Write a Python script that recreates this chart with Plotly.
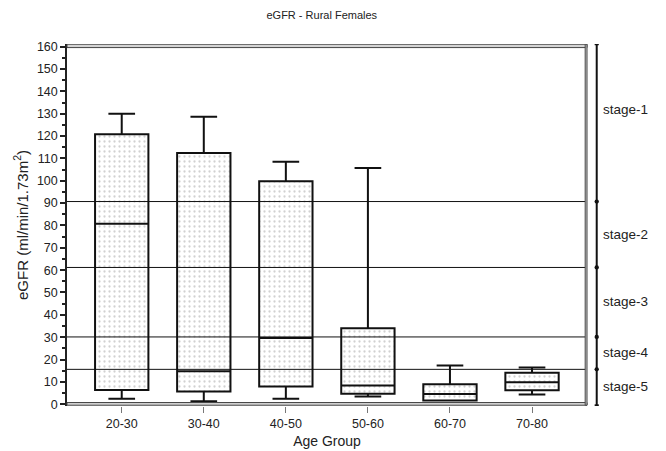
import plotly.graph_objects as go

# ---- data ----
categories = ["20-30", "30-40", "40-50", "50-60", "60-70", "70-80"]
upper = [130.0, 128.6, 108.5, 105.7, 17.3, 16.4]
q3 = [120.8, 112.4, 99.8, 34.0, 8.9, 14.1]
median = [80.8, 14.8, 29.6, 8.4, 4.6, 9.8]
q1 = [6.4, 5.7, 7.9, 4.7, 1.7, 6.3]
lower = [2.4, 1.3, 2.4, 3.5, 1.7, 4.4]

stage_cuts = [90.7, 61.2, 30.1, 15.6]
stage_names = ["stage-1", "stage-2", "stage-3", "stage-4", "stage-5"]
stage_label_y = [132.0, 76.0, 46.0, 23.0, 8.0]

FONT = "Arial, Liberation Sans, sans-serif"
BOXW = 0.65

# the page body has an 8px default margin; size the figure to fill the window
W, H = 658, 443

fig = go.Figure()

# dotted texture inside the boxes
fig.add_trace(go.Bar(
    x=categories,
    y=[a - b for a, b in zip(q3, q1)],
    base=q1,
    width=BOXW,
    marker=dict(color="white", line=dict(width=0),
                pattern=dict(shape=".", fgcolor="#a4a4a4", bgcolor="white",
                             size=5, solidity=0.16)),
    hoverinfo="skip",
    showlegend=False,
))

fig.add_trace(go.Box(
    x=categories,
    q1=q1, median=median, q3=q3,
    lowerfence=lower, upperfence=upper,
    width=BOXW,
    whiskerwidth=0.5,
    fillcolor="rgba(0,0,0,0)",
    line=dict(color="#111111", width=2),
    boxpoints=False,
    showlegend=False,
))

shapes = []
# stage separation lines
for c in stage_cuts:
    shapes.append(dict(type="line", xref="paper", yref="y", x0=0, x1=0.997,
                       y0=c, y1=c, line=dict(color="#111111", width=1)))
# frame bands
shapes.append(dict(type="rect", xref="paper", yref="y", x0=0, x1=1.0, y0=159.6, y1=161.1,
                   fillcolor="#d4d4d4", line=dict(color="#444444", width=1)))
shapes.append(dict(type="rect", xref="paper", yref="y", x0=0, x1=1.0, y0=-0.45, y1=0.75,
                   fillcolor="#d4d4d4", line=dict(color="#444444", width=1)))
shapes.append(dict(type="rect", xref="paper", yref="y", x0=0.9965, x1=1.0, y0=-0.45, y1=161.1,
                   fillcolor="#d4d4d4", line=dict(color="#444444", width=1)))

# stage bracket on the right
bx = 1.0187
shapes.append(dict(type="line", xref="paper", yref="y", x0=bx, x1=bx, y0=-0.5, y1=161.1,
                   line=dict(color="#111111", width=2)))
for yy in [-0.5, 161.1]:
    shapes.append(dict(type="line", xref="paper", yref="y", x0=bx - 0.004, x1=bx + 0.004,
                       y0=yy, y1=yy, line=dict(color="#111111", width=2)))
for c in stage_cuts:
    shapes.append(dict(type="circle", xref="paper", yref="y",
                       x0=bx - 0.0042, x1=bx + 0.0042, y0=c - 0.95, y1=c + 0.95,
                       fillcolor="#111111", line=dict(color="#111111", width=0)))

annotations = []
for name, yy in zip(stage_names, stage_label_y):
    annotations.append(dict(text=name, xref="paper", yref="y", x=1.027, y=yy,
                            xanchor="left", yanchor="middle", showarrow=False,
                            font=dict(family=FONT, size=13.5, color="#222222")))

fig.update_layout(
    width=W, height=H,
    margin=dict(l=59, r=79, t=36, b=45, autoexpand=False),
    paper_bgcolor="white", plot_bgcolor="white",
    font=dict(family=FONT, size=11, color="#222222"),
    title=dict(text="eGFR - Rural Females", x=0.49, xref="paper",
               y=1 - 7.5 / H, yref="container", yanchor="middle",
               xanchor="center", font=dict(family=FONT, size=11, color="#222222")),
    shapes=shapes,
    annotations=annotations,
    bargap=0.35,
    showlegend=False,
)

fig.update_xaxes(
    type="category",
    range=[-0.667, 5.67],
    automargin=False,
    showgrid=False, zeroline=False, showline=False,
    ticks="outside", ticklen=6, tickcolor="#777777", tickwidth=1,
    tickfont=dict(family=FONT, size=12.5, color="#222222"),
    title=dict(text="Age Group", font=dict(family=FONT, size=14, color="#222222"), standoff=6),
)

fig.update_yaxes(
    range=[-0.8, 161.2],
    automargin=False,
    tickmode="linear", tick0=0, dtick=10,
    showgrid=False, zeroline=False,
    showline=True, linecolor="#222222", linewidth=1.5,
    ticks="outside", ticklen=5, tickcolor="#222222", tickwidth=1.5,
    minor=dict(dtick=5, tick0=0, ticks="outside", ticklen=3, tickcolor="#222222",
               tickwidth=1.5, showgrid=False),
    tickfont=dict(family=FONT, size=12.5, color="#222222"),
    title=dict(text="eGFR (ml/min/1.73m<sup>2</sup>)",
               font=dict(family=FONT, size=15, color="#222222"), standoff=5),
)

fig.write_html("out.html")
